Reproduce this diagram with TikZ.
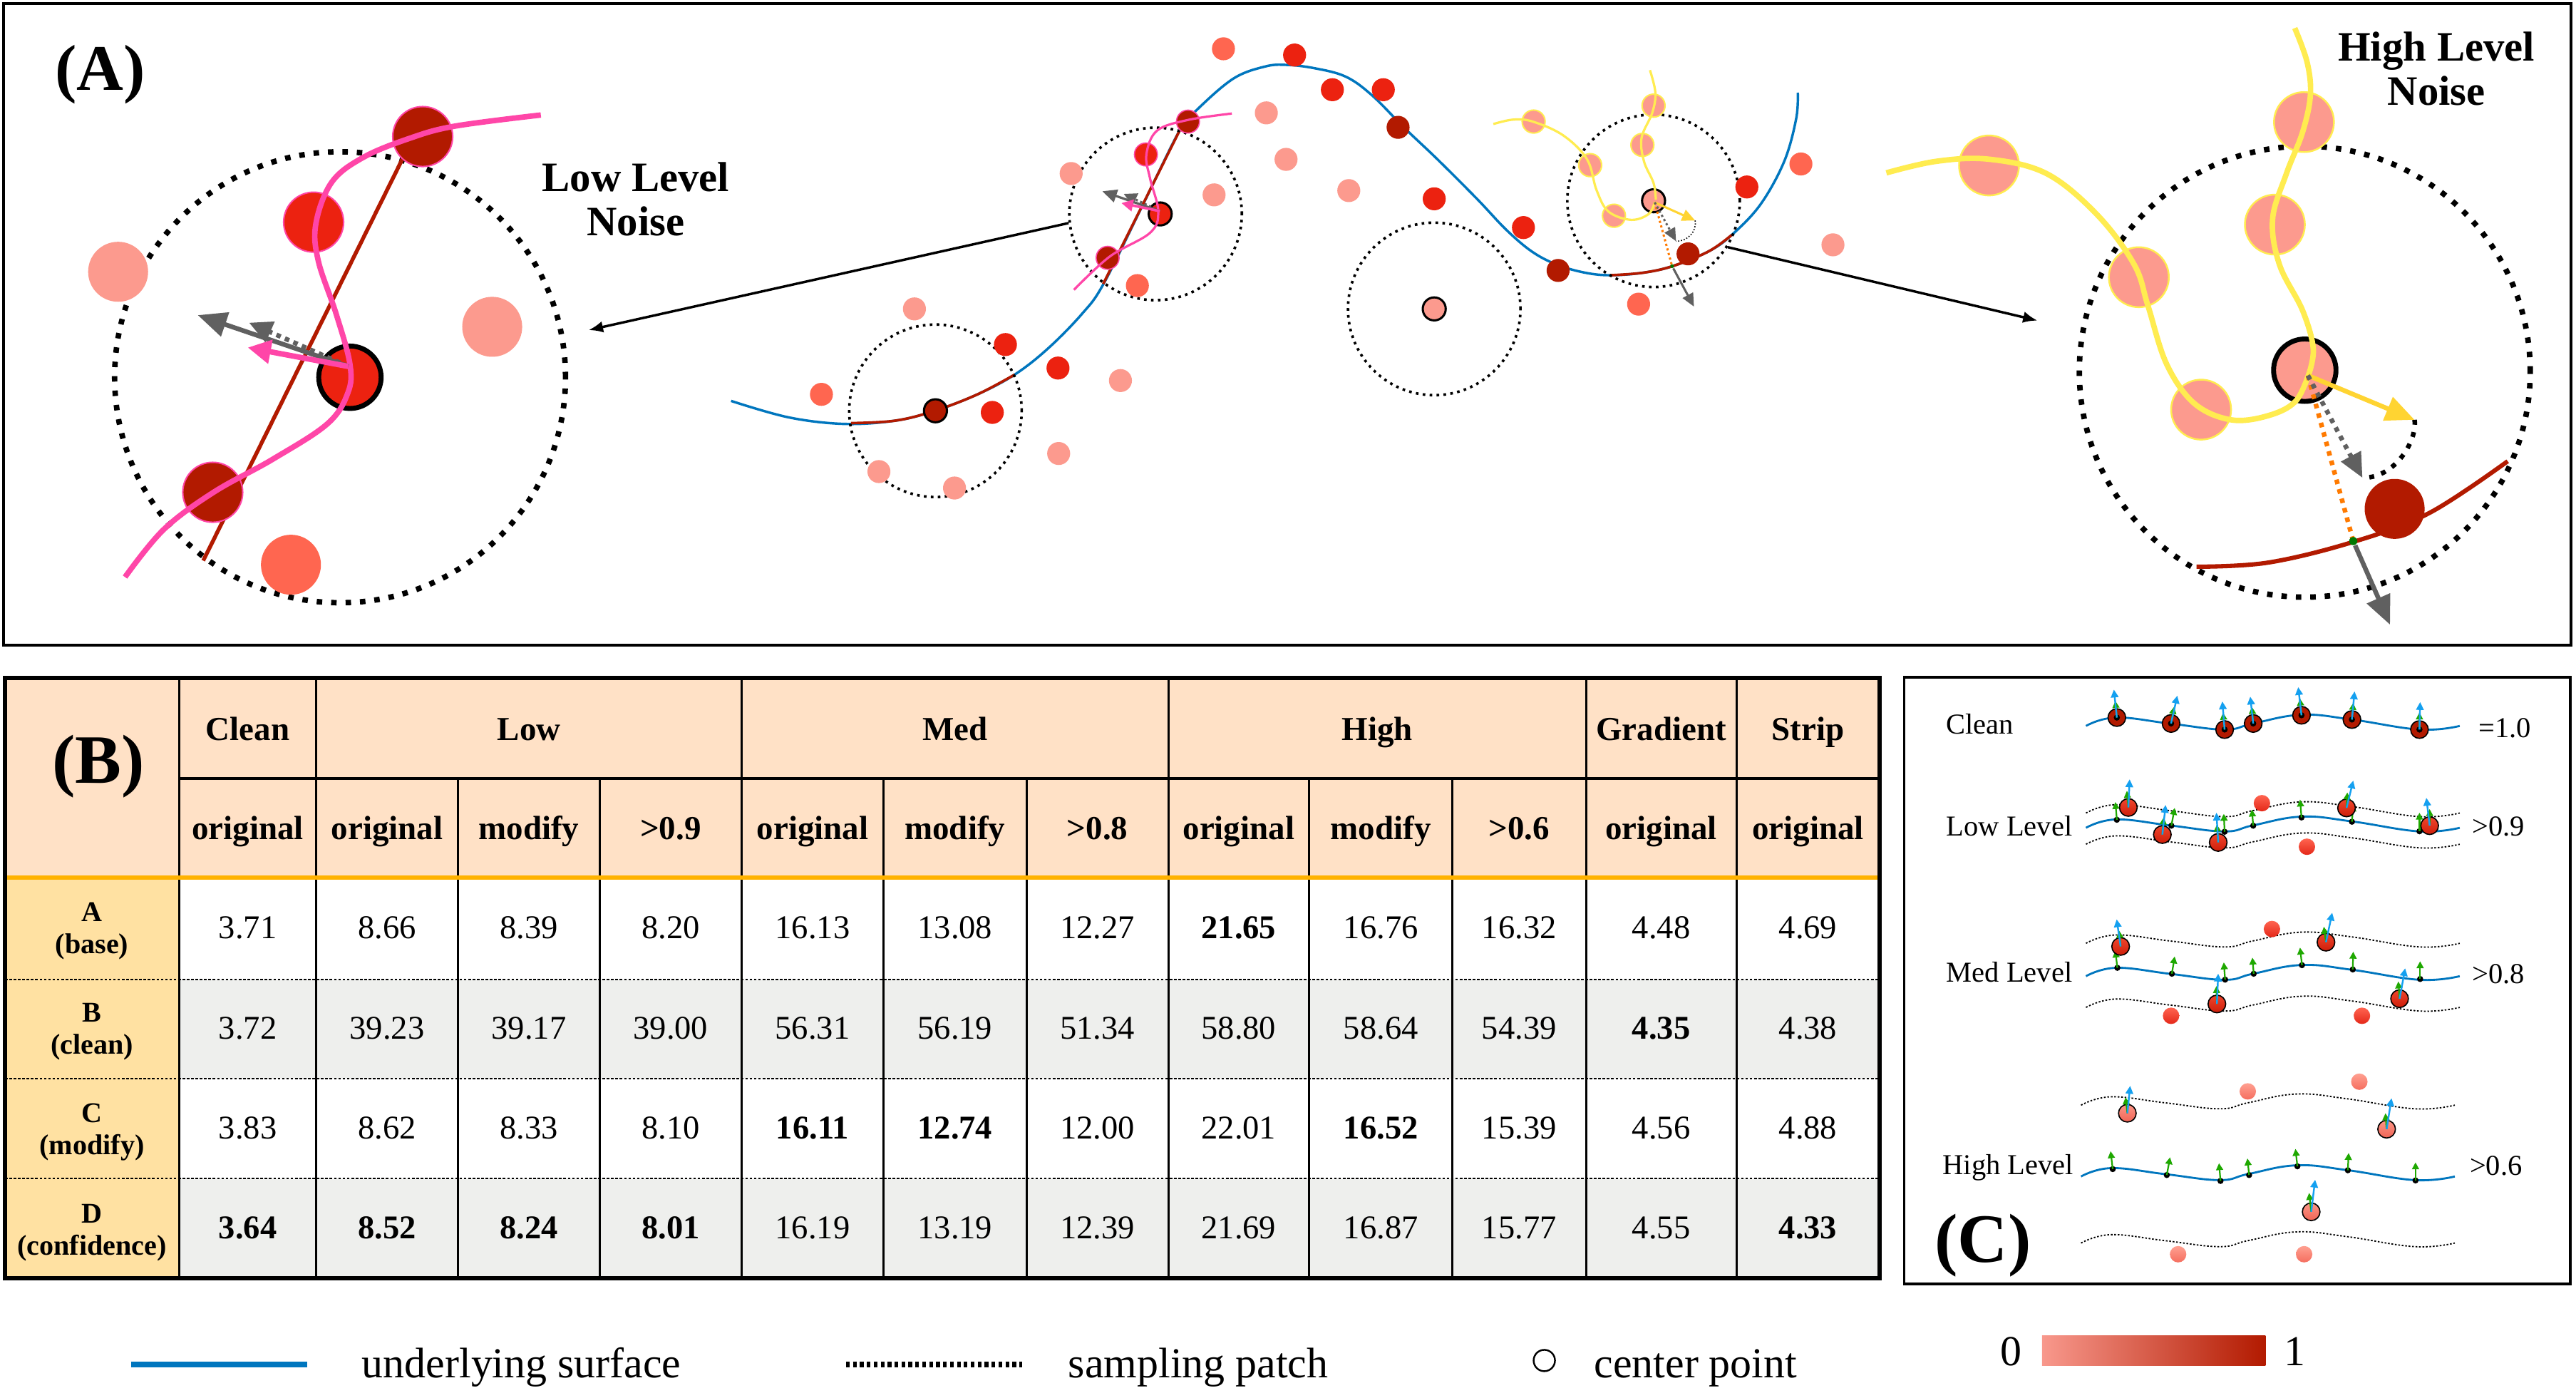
\documentclass[tikz,border=0pt]{standalone}
\usepackage{fontspec}
\setmainfont{Liberation Serif}
\usetikzlibrary{arrows.meta}
\definecolor{cS}{RGB}{252,154,142}
\definecolor{cC}{RGB}{255,102,80}
\definecolor{cR}{RGB}{236,34,16}
\definecolor{cD}{RGB}{178,26,0}
\definecolor{cPink}{RGB}{255,70,168}
\definecolor{cYel}{RGB}{255,236,80}
\definecolor{cGold}{RGB}{255,212,50}
\definecolor{cBlue}{RGB}{0,118,190}
\definecolor{cGray}{RGB}{96,96,96}
\definecolor{cOr}{RGB}{255,122,0}
\definecolor{cGrn}{RGB}{0,120,0}
\definecolor{cPeach}{RGB}{255,225,198}
\definecolor{cLab}{RGB}{255,225,162}
\definecolor{cRowG}{RGB}{238,239,237}
\definecolor{cAmber}{RGB}{255,178,0}
\definecolor{cNB}{RGB}{20,160,240}
\definecolor{cNG}{RGB}{30,168,0}
\definecolor{cGradL}{RGB}{248,152,140}
\definecolor{cLowT}{RGB}{240,70,45}
\definecolor{cLowB}{RGB}{205,30,10}
\definecolor{cHiT}{RGB}{252,150,135}
\definecolor{cHiB}{RGB}{240,100,85}
\definecolor{cPlT}{RGB}{255,100,80}
\definecolor{cPlB}{RGB}{228,40,25}
\definecolor{cPhT}{RGB}{255,160,145}
\definecolor{cPhB}{RGB}{245,110,95}
\newcommand\cwavepath{plot[smooth,tension=0.7] coordinates {(1269.7,441.8) (1288,436.7) (1321.2,440.4) (1354.1,444) (1371.5,440.3) (1400.9,435) (1431.6,437.9) (1472.8,444) (1497.2,441.8)}}
\tikzset{
 dotp/.style={circle,inner sep=0pt,minimum size=0.28cm},
 dotpc/.style={dotp,draw=black,line width=0.75pt},
 pbig/.style={circle,inner sep=0pt,minimum size=0.73cm},
 pbigc/.style={circle,inner sep=0pt,minimum size=0.76cm,draw=black,line width=1.7pt},
 smpatch/.style={circle,draw=black,inner sep=0pt,minimum size=2.1cm,line width=0.9pt,dash pattern=on 0.9pt off 1.5pt},
 bigpatch/.style={circle,draw=black,inner sep=0pt,minimum size=5.49cm,line width=1.9pt,dash pattern=on 1.9pt off 3.1pt},
 surf/.style={cBlue,line width=0.85pt},
 rsurf/.style={cD,line width=0.9pt},
 conn/.style={black,line width=0.85pt,-{Latex[length=5pt,width=4pt]}},
 hdr/.style={font=\bfseries\fontsize{11.6}{13}\selectfont,inner sep=0pt,anchor=base},
 dat/.style={font=\fontsize{11.5}{13}\selectfont,inner sep=0pt,anchor=base},
 rowlab/.style={font=\bfseries\fontsize{9.9}{11}\selectfont,inner sep=0pt,anchor=base},
 ctext/.style={font=\fontsize{10}{12}\selectfont,inner sep=0pt,anchor=base west},
 legt/.style={font=\fontsize{14.8}{17}\selectfont,inner sep=0pt,anchor=base west},
 noisel/.style={font=\bfseries\fontsize{14.5}{16}\selectfont,inner sep=0pt,anchor=base},
 cwave/.style={cBlue,line width=0.7pt},
 cdotted/.style={black,line width=0.45pt,dash pattern=on 0.6pt off 0.6pt},
 ccirc/.style={circle,inner sep=0pt,minimum size=0.215cm,draw=black,line width=0.4pt},
 cplain/.style={circle,inner sep=0pt,minimum size=0.2cm},
 cblk/.style={circle,fill=black,inner sep=0pt,minimum size=0.075cm},
 garrow/.style={cNG,line width=0.55pt,-{Triangle[length=2.4pt,width=2.4pt]}},
 barrow/.style={cNB,line width=0.6pt,-{Triangle[length=2.7pt,width=2.6pt]}},
}
\begin{document}
\begin{tikzpicture}[x=0.02cm,y=-0.02cm]
\useasboundingbox (0,0) rectangle (1568,850.4);
\fill[white] (0,0) rectangle (1568,850.4);
% ================= Panel A =================
\draw[line width=1pt] (2.2,2.2) rectangle (1565,392.6);
\node[font=\bfseries\fontsize{22.5}{27}\selectfont,inner sep=0pt] (labA) at (61,45.3) {(A)};

% ---- middle: underlying surface ----
\draw[surf] plot[smooth,tension=0.6] coordinates {(445,244) (480,254) (514,258) (545,256) (569,250) (595,240) (617.6,228) (638,212) (658.7,190.9) (671.7,172.8) (695,126) (718,79.5) (728.9,66.5) (750.8,47.8) (770,40.5) (783,39.5) (800,41.5) (819,46.6) (835,57.9) (855,78) (875,97) (899,121) (917,140) (932.75,153.3) (948,161.2) (965,166) (980.5,167.5) (1000,166) (1018,162) (1040,153) (1054.2,142.9) (1071.6,124.4) (1086,98.3) (1093.3,72.3) (1094.3,56.4)};
\draw[rsurf] plot[smooth,tension=0.6] coordinates {(518,257.5) (545,256) (569,250) (595,240) (617.6,228)};
\draw[rsurf] (671.5,172.8) -- (718,79.5);
\draw[rsurf] plot[smooth,tension=0.6] coordinates {(980.5,167.5) (1000,166) (1018,162) (1040,153) (1054.2,142.9)};

% sampling patches
\node[smpatch] (patchL) at (569.4,250) {};
\node[smpatch] (patchU) at (703.4,130.2) {};
\node[smpatch] (patchM) at (873,188) {};
\node[smpatch] (patchR) at (1006.5,122.2) {};

% points
\foreach \x/\y [count=\i] in {770.8/68.7,782.8/97,821/116,739/118.6,652/105.6,682/231.6,556.6/188,644.4/276,535/287,581/297,1115.7/149}
  \node[dotp,fill=cS] (sa\i) at (\x,\y) {};
\foreach \x/\y [count=\i] in {744.7/29.7,692.3/173.8,500/240,997.4/185.1,1096.2/99.8}
  \node[dotp,fill=cC] (sc\i) at (\x,\y) {};
\foreach \x/\y [count=\i] in {788/33.5,811/54.6,842/54.6,873/121,927.3/138.5,612/209.7,644/224,604/251,1063.3/113.8}
  \node[dotp,fill=cR] (sr\i) at (\x,\y) {};
\foreach \x/\y [count=\i] in {851/77.5,948.4/164.6,1027.5/154.5}
  \node[dotp,fill=cD] (sd\i) at (\x,\y) {};
\node[dotp,fill=cD,draw=cPink,line width=0.4pt] (up1) at (723.1,74) {};
\node[dotp,fill=cR,draw=cPink,line width=0.4pt] (up2) at (697.5,94) {};
\node[dotp,fill=cD,draw=cPink,line width=0.4pt] (up3) at (674.2,156.9) {};
\foreach \x/\y [count=\i] in {1006.5/64.3,999.7/88.2,967.9/100.5,982.4/131.3,933.5/74}
  \node[dotp,fill=cS,draw=cYel,line width=0.5pt] (ry\i) at (\x,\y) {};
\node[dotpc,fill=cD] (ctrL) at (569.4,250) {};
\node[dotpc,fill=cS] (ctrM) at (873,188) {};
\node[dotpc,fill=cR] (ctrU) at (706.2,130.2) {};
\node[dotpc,fill=cS] (ctrR) at (1006.5,122.2) {};

% pink and yellow local curves
\draw[cPink,line width=0.8pt] plot[smooth,tension=0.6] coordinates {(653.7,176.4) (675.4,156.2) (700,141.7) (705,128.7) (700,108.5) (697.8,94) (704.3,79.5) (723.1,73) (749.8,69.1)};
\draw[cYel,line width=0.8pt] plot[smooth,tension=0.6] coordinates {(909,75.5) (921,72.8) (933,74) (951.5,82.4) (966,96.9) (971.8,115.7) (979,128.7) (992.8,133.8) (1003.6,130.2) (1007.2,122.9)};
\draw[cYel,line width=0.8pt] plot[smooth,tension=0.6] coordinates {(1004.3,42.7) (1007.6,56.4) (1005.7,68.7) (999.2,83.9) (1000.7,98.3) (1006.5,111.4) (1007.9,121.5)};

% upper patch small arrows
\coordinate (oU) at (706,128.5);
\coordinate (gU) at (671,116.4);
\coordinate (gdU) at (684,118);
\coordinate (pU) at (682.6,123.6);
\draw[cGray,line width=0.8pt,-{Triangle[length=5pt,width=4.5pt]}] (oU) -- (gU);
\draw[cGray,line width=0.8pt,dash pattern=on 0.8pt off 0.9pt,-{Triangle[length=4.5pt,width=4.5pt]}] (oU) -- (gdU);
\draw[cPink,line width=0.9pt,-{Triangle[length=4pt,width=4pt]}] (oU) -- (pU);

% right patch small arrows
\coordinate (oR) at (1007.2,123.2);
\coordinate (yR) at (1031.8,134.2);
\coordinate (gdR) at (1020.2,146.8);
\coordinate (gnRp) at (1017.8,162);
\coordinate (gsR) at (1031.1,186.6);
\draw[cOr,line width=0.75pt,dash pattern=on 0.75pt off 0.9pt] (oR) -- (gnRp);
\node[circle,fill=cGrn,inner sep=0pt,minimum size=0.045cm] (gnR) at (gnRp) {};
\draw[cGray,line width=0.75pt,-{Triangle[length=4.5pt,width=4pt]}] (gnR) -- (gsR);
\draw[cGold,line width=0.75pt,-{Triangle[length=4.5pt,width=4pt]}] (oR) -- (yR);
\draw[cGray,line width=0.75pt,dash pattern=on 0.75pt off 0.9pt,-{Triangle[length=4.5pt,width=4pt]}] (oR) -- (gdR);
\draw[black,line width=0.4pt,dash pattern=on 0.4pt off 0.6pt] (yR) .. controls (1033,141) and (1027,147) .. (gdR);

% ---- big low-level zoom ----
\node[bigpatch] (bigL) at (207,229.6) {};
\draw[cD,line width=1.35pt] (123.7,341.2) -- (244.9,96.9);
\node[pbig,fill=cS] (bl1) at (71.9,165.4) {};
\node[pbig,fill=cS] (bl2) at (299.6,198.9) {};
\node[pbig,fill=cC] (bl3) at (177.1,343.7) {};
\node[pbig,fill=cD,draw=cPink,line width=0.5pt] (bl4) at (257.3,83.1) {};
\node[pbig,fill=cR,draw=cPink,line width=0.5pt] (bl5) at (190.9,135.2) {};
\node[pbig,fill=cD,draw=cPink,line width=0.5pt] (bl6) at (129.5,299.6) {};
\node[pbigc,fill=cR] (blc) at (213,229.6) {};
\draw[cPink,line width=1.9pt] plot[smooth,tension=0.6] coordinates {(76.1,351.2) (99.6,322.3) (130,299.6) (166,279.5) (199.2,258) (211.7,239.2) (213,221.6) (204.7,191.3) (193.7,158.6) (192.3,136) (202,110.8) (221.3,95.7) (249,84.3) (276.7,76.8) (329.2,70)};
\coordinate (oL) at (212,223);
\coordinate (gL) at (120.4,191.8);
\coordinate (gdL) at (151.6,196.4);
\coordinate (pL) at (150.8,211.5);
\draw[cGray,line width=1.6pt,-{Triangle[length=10pt,width=8.5pt]}] (oL) -- (gL);
\draw[cGray,line width=1.6pt,dash pattern=on 1.6pt off 1.6pt,-{Triangle[length=8pt,width=7.5pt]}] (oL) -- (gdL);
\draw[cPink,line width=1.9pt,-{Triangle[length=8pt,width=8pt]}] (oL) -- (pL);
\node[noisel] (tLow1) at (387,116.3) {Low Level};
\node[noisel] (tLow2) at (387,143.5) {Noise};

% ---- big high-level zoom ----
\node[bigpatch] (bigH) at (1402.9,226.2) {};
\draw[cD,line width=1.5pt] plot[smooth,tension=0.6] coordinates {(1337,344.9) (1380.5,342.4) (1432.4,329.8) (1478.7,312.2) (1526.4,280.7)};
\foreach \x/\y [count=\i] in {1210.7/100.7,1402.4/74.3,1384.7/136.7,1301.9/168.7,1339.8/249.3}
  \node[pbig,fill=cS,draw=cYel,line width=0.6pt] (bh\i) at (\x,\y) {};
\node[pbig,fill=cD] (bhd) at (1457.6,309.7) {};
\node[pbigc,fill=cS] (bhc) at (1402.9,225.3) {};
\draw[cYel,line width=1.9pt] plot[smooth,tension=0.6] coordinates {(1148.2,105.2) (1178.5,98.2) (1210.7,96.9) (1245.8,105.7) (1276.7,130.9) (1299.1,161.1) (1307.5,186.3) (1318.8,221.6) (1335.6,245.5) (1358,255.5) (1380.5,253) (1397.3,244.2) (1405.7,226.6)};
\draw[cYel,line width=1.9pt] plot[smooth,tension=0.6] coordinates {(1396.8,17.1) (1404.3,37.8) (1406.3,57.9) (1401.5,80.6) (1391.7,105.7) (1383.3,133.4) (1387.5,161.1) (1401.5,188.8) (1408,211.5) (1405.7,226.6)};
\coordinate (oH) at (1404.8,228.5);
\coordinate (gnHp) at (1432.4,329.3);
\coordinate (yH) at (1469.7,255.5);
\coordinate (gdH) at (1438,290.8);
\coordinate (gsH) at (1454.8,380.2);
\draw[cOr,line width=1.6pt,dash pattern=on 1.6pt off 1.8pt] (oH) -- (gnHp);
\node[circle,fill=cGrn,inner sep=0pt,minimum size=0.1cm] (gnH) at (gnHp) {};
\draw[cGray,line width=1.6pt,-{Triangle[length=10pt,width=8.5pt]}] (gnH) -- (gsH);
\draw[cGold,line width=1.6pt,-{Triangle[length=10pt,width=8.5pt]}] (oH) -- (yH);
\draw[cGray,line width=1.6pt,dash pattern=on 1.6pt off 1.8pt,-{Triangle[length=8.5pt,width=7.5pt]}] (oH) -- (gdH);
\draw[black,line width=1.6pt,dash pattern=on 1.7pt off 2.6pt] (yH) .. controls (1471.5,268) and (1458,291) .. (gdH);
\node[noisel] (tHigh1) at (1483,37.3) {High Level};
\node[noisel] (tHigh2) at (1483,64.2) {Noise};

% connectors
\coordinate (tipL) at (358.3,200.9);
\coordinate (tipH) at (1240.2,195.1);
\draw[conn] (patchU.186) -- (tipL);
\draw[conn] (patchR.-32) -- (tipH);

% ================= Panel B (table) =================
\fill[cPeach] (3,412.5) rectangle (1144,534);
\fill[cLab] (3,534) rectangle (109,778);
\fill[cRowG] (109,596) rectangle (1144,656.4);
\fill[cRowG] (109,717) rectangle (1144,778);
\foreach \x in {109,192.5,451.4,711.2,965.4,1057} \draw[line width=0.75pt] (\x,412.5) -- (\x,778);
\foreach \x in {278.8,365,537.8,624.8,796.9,884.1} \draw[line width=0.75pt] (\x,473.7) -- (\x,778);
\draw[line width=0.9pt] (109,473.7) -- (1144,473.7);
\foreach \y in {596,656.4,717} \draw[line width=0.5pt,dash pattern=on 0.9pt off 0.6pt] (3,\y) -- (1144,\y);
\draw[cAmber,line width=1.4pt] (3,534) -- (1144,534);
\draw[line width=1.4pt] (3,412.5) rectangle (1144,778);

\node[font=\bfseries\fontsize{24}{28}\selectfont,inner sep=0pt] (labB) at (60,466.6) {(B)};
\node[hdr] (hClean) at (150.8,450.5) {Clean};
\node[hdr] (hLow) at (322,450.5) {Low};
\node[hdr] (hMed) at (581.3,450.5) {Med};
\node[hdr] (hHigh) at (838.3,450.5) {High};
\node[hdr] (hGrad) at (1011.2,450.5) {Gradient};
\node[hdr] (hStrip) at (1100.5,450.5) {Strip};
\foreach \x/\t [count=\i] in {150.8/original,235.6/original,321.9/modify,408.2/{>0.9},494.6/original,581.3/modify,668/{>0.8},754/original,840.5/modify,924.7/{>0.6},1011.2/original,1100.5/original}
  \node[hdr] (hs\i) at (\x,511) {\t};

\node[rowlab] (lA1) at (56,560.7) {A};
\node[rowlab] (lA2) at (56,580.3) {(base)};
\node[rowlab] (lB1) at (56,621.9) {B};
\node[rowlab] (lB2) at (56,641.5) {(clean)};
\node[rowlab] (lC1) at (56,683.1) {C};
\node[rowlab] (lC2) at (56,702.7) {(modify)};
\node[rowlab] (lD1) at (56,744.3) {D};
\node[rowlab] (lD2) at (56,763.9) {(confidence)};

\foreach \x/\v [count=\i] in {150.8/3.71,235.6/8.66,321.9/8.39,408.2/8.20,494.6/16.13,581.3/13.08,668/12.27,754/{\textbf{21.65}},840.5/16.76,924.7/16.32,1011.2/4.48,1100.5/4.69}
  \node[dat] (dA\i) at (\x,571.2) {\v};
\foreach \x/\v [count=\i] in {150.8/3.72,235.6/39.23,321.9/39.17,408.2/39.00,494.6/56.31,581.3/56.19,668/51.34,754/58.80,840.5/58.64,924.7/54.39,1011.2/{\textbf{4.35}},1100.5/4.38}
  \node[dat] (dB\i) at (\x,632.4) {\v};
\foreach \x/\v [count=\i] in {150.8/3.83,235.6/8.62,321.9/8.33,408.2/8.10,494.6/{\textbf{16.11}},581.3/{\textbf{12.74}},668/12.00,754/22.01,840.5/{\textbf{16.52}},924.7/15.39,1011.2/4.56,1100.5/4.88}
  \node[dat] (dC\i) at (\x,692.9) {\v};
\foreach \x/\v [count=\i] in {150.8/{\textbf{3.64}},235.6/{\textbf{8.52}},321.9/{\textbf{8.24}},408.2/{\textbf{8.01}},494.6/16.19,581.3/13.19,668/12.39,754/21.69,840.5/16.87,924.7/15.77,1011.2/4.55,1100.5/{\textbf{4.33}}}
  \node[dat] (dD\i) at (\x,753.7) {\v};

% ================= Panel C =================
\draw[line width=0.9pt] (1159,412.3) rectangle (1564.5,781.3);
\node[ctext] (cT1) at (1184.4,446.6) {Clean};
\node[ctext] (cT2) at (1184.4,508.5) {Low Level};
\node[ctext] (cT3) at (1184.4,597.8) {Med Level};
\node[ctext] (cT4) at (1182.2,714.7) {High Level};
\node[ctext] (cV1) at (1508.5,449) {=1.0};
\node[ctext] (cV2) at (1504.5,508.9) {>0.9};
\node[ctext] (cV3) at (1504.5,598.3) {>0.8};
\node[ctext] (cV4) at (1503,715.4) {>0.6};
\node[font=\bfseries\fontsize{24}{28}\selectfont,inner sep=0pt] (labC) at (1207,758) {(C)};

% waves
\draw[cdotted,shift={(0,53)}] \cwavepath;
\draw[cdotted,shift={(0,72)}] \cwavepath;
\draw[cdotted,shift={(0,132.3)}] \cwavepath;
\draw[cdotted,shift={(0,171.3)}] \cwavepath;
\draw[cdotted,shift={(-3,230.8)}] \cwavepath;
\draw[cdotted,shift={(-3,314.7)}] \cwavepath;
\draw[cwave] \cwavepath;
\draw[cwave,shift={(0,62)}] \cwavepath;
\draw[cwave,shift={(0,152.3)}] \cwavepath;
\draw[cwave,shift={(-3,274.2)}] \cwavepath;

% clean row
\foreach \x/\y/\bx/\by/\gx/\gy [count=\i] in {1288.5/436.7/1286.7/419.7/1287.6/426.6,1321.5/440.3/1325.3/423.4/1323.3/430.2,1354.1/444.0/1352.7/426.9/1353.1/433.8,1371.5/440.3/1369.7/424.0/1370.7/430.2,1400.9/435.3/1398.9/418.2/1400.0/425.2,1431.6/437.9/1433.2/420.8/1432.4/427.8,1472.7/444.0/1473.1/427.3/1472.7/433.6}{
  \node[ccirc,fill=cD] (kc\i) at (\x,\y) {};
  \node[cblk] (kcd\i) at (\x,\y) {};
  \coordinate (kcg\i) at (\gx,\gy);
  \coordinate (kcb\i) at (\bx,\by);
  \draw[garrow] (kcd\i.center) -- (kcg\i);
  \draw[barrow] (kcd\i.center) -- (kcb\i);
}
% low row
\foreach \x/\y/\gx/\gy [count=\i] in {1288.5/498.9/1287.6/488.1,1321.7/502.5/1323.7/491.7,1354.1/506.2/1353.6/495.3,1371.5/502.5/1370.7/492.7,1400.9/497.5/1400.0/486.6,1431.6/500.1/1432.4/489.5,1472.7/505.9/1472.7/494.6}{
  \node[cblk] (kld\i) at (\x,\y) {};
  \coordinate (klg\i) at (\gx,\gy);
  \draw[garrow] (kld\i.center) -- (klg\i);
}
\node[cplain,top color=cPlT,bottom color=cPlB] (klp1) at (1376.8,488.8) {};
\node[cplain,top color=cPlT,bottom color=cPlB] (klp2) at (1404.2,515.3) {};
\foreach \x/\y/\bx/\by/\gx/\gy [count=\i] in {1295.5/491.4/1296.3/474.3/1294.6/481.3,1316.2/507.9/1318.2/489.9/1317.0/497.5,1350.2/512.7/1349.1/494.6/1349.4/501.8,1428.3/491.7/1432.4/475.1/1428.8/482.3,1478.9/502.5/1476.9/485.6/1478.9/492.4}{
  \node[ccirc,top color=cLowT,bottom color=cLowB] (klc\i) at (\x,\y) {};
  \coordinate (klcg\i) at (\gx,\gy);
  \coordinate (klcb\i) at (\bx,\by);
  \draw[garrow] (klc\i.center) -- (klcg\i);
  \draw[barrow] (klc\i.center) -- (klcb\i);
}
% med row
\foreach \x/\y/\gx/\gy [count=\i] in {1288.8/589.0/1287.6/578.5,1322.0/592.6/1323.7/582.1,1354.4/596.2/1353.6/585.7,1371.8/592.6/1371.0/582.8,1401.2/587.4/1400.0/576.7,1432.1/590.0/1432.4/579.2,1473.1/595.8/1473.1/585.0}{
  \node[cblk] (kmd\i) at (\x,\y) {};
  \coordinate (kmg\i) at (\gx,\gy);
  \draw[garrow] (kmd\i.center) -- (kmg\i);
}
\node[cplain,top color=cPlT,bottom color=cPlB] (kmp1) at (1382.9,565.4) {};
\node[cplain,top color=cPlT,bottom color=cPlB] (kmp2) at (1321.5,618.2) {};
\node[cplain,top color=cPlT,bottom color=cPlB] (kmp3) at (1437.7,618.2) {};
\foreach \x/\y/\bx/\by/\gx/\gy [count=\i] in {1290.8/576.0/1288.4/559.5/1290.0/566.5,1415.8/573.4/1419.6/555.5/1414.5/564.0,1349.4/611.0/1350.2/592.6/1349.1/600.1,1460.6/607.8/1464.0/589.3/1459.8/597.3}{
  \node[ccirc,top color=cLowT,bottom color=cLowB] (kmc\i) at (\x,\y) {};
  \coordinate (kmcg\i) at (\gx,\gy);
  \coordinate (kmcb\i) at (\bx,\by);
  \draw[garrow] (kmc\i.center) -- (kmcg\i);
  \draw[barrow] (kmc\i.center) -- (kmcb\i);
}
% high row
\foreach \x/\y/\gx/\gy [count=\i] in {1286.0/711.5/1284.7/700.6,1318.9/715.1/1320.9/704.3,1351.6/718.7/1350.7/707.9,1369.0/715.1/1368.0/705.0,1398.4/709.8/1397.2/699.2,1429.1/712.2/1429.6/701.7,1470.3/718.4/1470.3/707.4}{
  \node[cblk] (khd\i) at (\x,\y) {};
  \coordinate (khg\i) at (\gx,\gy);
  \draw[garrow] (khd\i.center) -- (khg\i);
}
\foreach \x/\y [count=\i] in {1368.2/664.2,1436.1/658.3,1325.8/763.3,1402.5/763.3}
  \node[cplain,top color=cPhT,bottom color=cPhB] (khp\i) at (\x,\y) {};
\foreach \x/\y/\bx/\by/\gx/\gy [count=\i] in {1294.9/677.5/1296.6/660.9/1293.8/667.8,1452.7/687.2/1455.7/668.4/1452.0/677.5,1406.8/737.5/1409.2/718.0/1405.5/726.0}{
  \node[ccirc,top color=cHiT,bottom color=cHiB] (khc\i) at (\x,\y) {};
  \coordinate (khcg\i) at (\gx,\gy);
  \coordinate (khcb\i) at (\bx,\by);
  \draw[garrow] (khc\i.center) -- (khcg\i);
  \draw[barrow] (khc\i.center) -- (khcb\i);
}

% ================= Legend =================
\draw[cBlue,line width=1.95pt] (80,830.3) -- (187,830.3);
\node[legt] (lg1) at (220,838.6) {underlying surface};
\draw[black,line width=1.95pt,dash pattern=on 1.3pt off 1.1pt] (515,830.3) -- (622,830.3);
\node[legt] (lg2) at (650,838.6) {sampling patch};
\node[circle,draw=black,line width=0.6pt,inner sep=0pt,minimum size=0.26cm] (lgc) at (940,828) {};
\node[legt] (lg3) at (970,838.6) {center point};
\shade[left color=cGradL,right color=cD] (1243,813) rectangle (1379,831);
\node[font=\fontsize{14.8}{17}\selectfont,inner sep=0pt,anchor=base] (lg0) at (1224,831) {0};
\node[font=\fontsize{14.8}{17}\selectfont,inner sep=0pt,anchor=base] (lg1b) at (1397,831) {1};
\end{tikzpicture}
\end{document}
